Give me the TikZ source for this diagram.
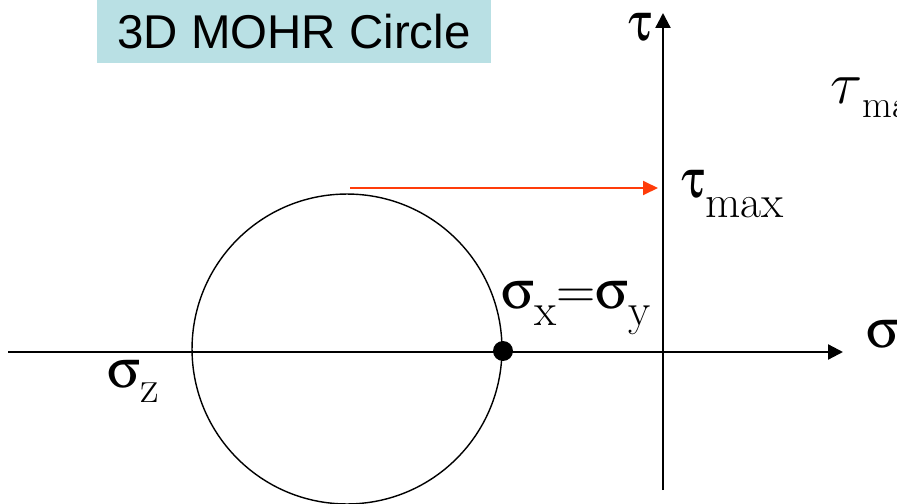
\RequirePackage{fix-cm}
\documentclass[tikz,border=0pt]{standalone}
\usepackage{fontspec}
\usepackage[Symbol]{upgreek}
\newfontfamily\titlefont{Liberation Sans}
\usetikzlibrary{arrows.meta}

\definecolor{titlebg}{RGB}{185,224,228}
\definecolor{arrowred}{RGB}{255,60,10}
\newcommand{\bigsym}{\fontsize{31}{31}\selectfont}
\newcommand{\lowsub}[2]{\raisebox{-#1}{\fontsize{26}{26}\selectfont #2}}

\begin{document}
\begin{tikzpicture}[x=0.02cm, y=-0.02cm,
	axis/.style={line width=1.3pt, -{Triangle[length=0.3cm,width=0.3cm]}},
	lbl/.style={anchor=base west, inner sep=0pt, font=\bigsym}]
	
	\clip (0,0) rectangle (897,504);
	\useasboundingbox (0,0) rectangle (897,504);
	
	% title box
	\node[fill=titlebg, minimum width=7.9cm, minimum height=1.26cm, inner sep=0pt, font=\titlefont\fontsize{27}{27}\selectfont] (title) at (294,31.5) {3D MOHR Circle};
	
	% axes
	\coordinate (sigL) at (8,352);
	\coordinate (sigR) at (843,352);
	\coordinate (tauB) at (663,490);
	\coordinate (tauT) at (663,13);
	\draw[axis] (sigL) -- (sigR);
	\draw[axis] (tauB) -- (tauT);
	
	% mohr circle and the point sx=sy
	\node[circle, draw, line width=0.8pt, minimum size=6.2cm, inner sep=0pt] (mohr) at (347,349) {};
	\node[circle, fill, minimum size=0.4cm, inner sep=0pt] (sxy) at (503,351) {};
	
	% tau max arrow
	\coordinate (top) at (350,188);
	\coordinate (tmax) at (658,188);
	\draw[line width=1.1pt, arrowred, -{Triangle[length=0.3cm,width=0.28cm]}] (top) -- (tmax);
	
	% labels
	\node[lbl] (tau) at (628,40) {$\uptau$};
	\node[lbl] (sig) at (866,347) {$\upsigma$};
	\node[lbl] (taumax) at (681,197) {$\uptau$\lowsub{0.42cm}{max}};
	\node[lbl] (sigxy) at (501,308) {$\upsigma$\lowsub{0.34cm}{x}=$\upsigma$\lowsub{0.34cm}{y}};
	\node[lbl] (sigz) at (107,387) {$\upsigma$\lowsub{0.3cm}{z}};
	\node[lbl, font=\fontsize{34}{34}\selectfont] (taumaxi) at (830,103) {$\tau$\raisebox{-0.3cm}{\fontsize{22}{22}\selectfont max}};
	
\end{tikzpicture}
\end{document}
